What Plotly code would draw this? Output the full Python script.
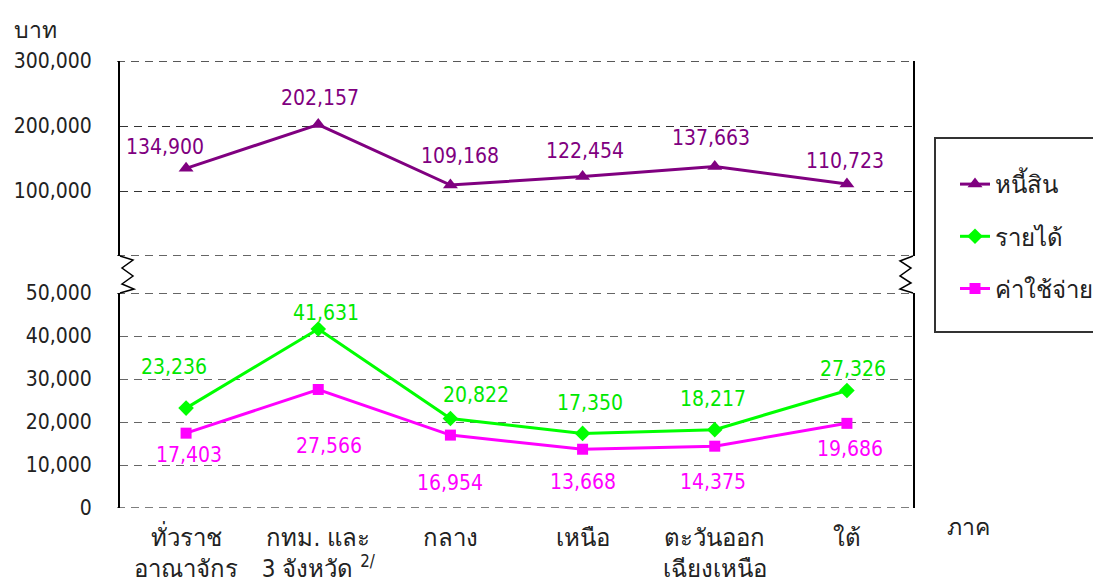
import plotly.graph_objects as go

# ---------------- data ----------------
categories = ["ทั่วราชอาณาจักร", "กทม. และ 3 จังหวัด", "กลาง", "เหนือ", "ตะวันออกเฉียงเหนือ", "ใต้"]
tick_labels = ["ทั่วราช<br>อาณาจักร", "กทม. และ<br>3 จังหวัด <sup>2/</sup>", "กลาง", "เหนือ",
               "ตะวันออก<br>เฉียงเหนือ", "ใต้"]
debt = [134900, 202157, 109168, 122454, 137663, 110723]      # หนี้สิน
income = [23236, 41631, 20822, 17350, 18217, 27326]          # รายได้
expense = [17403, 27566, 16954, 13668, 14375, 19686]         # ค่าใช้จ่าย
upper_ticks = [100000, 200000, 300000]
lower_ticks = [0, 10000, 20000, 30000, 40000, 50000]

# label offsets (pixels) – styling only
debt_off = [(-21, 21), (2, 27), (10, 29), (2, 25), (-4, 29), (-2, 23)]
income_off = [(-12, 41), (8, 16), (26, 23), (7, 30), (-2, 31), (6, 22)]
expense_off = [(3, -22), (11, -57), (0, -48), (0, -33), (-2, -36), (3, -26)]

NUMFONT = "DejaVu Sans Condensed, Noto Sans, sans-serif"
FONT = "DejaVu Sans Condensed, Noto Sans, sans-serif"
PURPLE = "#800080"
GREEN = "#00FF00"
MAGENTA = "#FF00FF"

# geometry (pixels)
W, H = 1093, 586
L, R, T, B = 120, 913, 61, 508
PW, PH = R - L, B - T
UPPER_BOTTOM = 256
LOWER_TOP = 293


def px(xp):
    return (xp - L) / PW


def py(yp):
    return (B - yp) / PH


fig = go.Figure()

fig.add_trace(go.Scatter(
    x=categories, y=debt, name="หนี้สิน", yaxis="y2", mode="lines+markers",
    line=dict(color=PURPLE, width=3), marker=dict(symbol="triangle-up", size=13, color=PURPLE),
    legendgroup="a"))
fig.add_trace(go.Scatter(
    x=categories, y=income, name="รายได้", yaxis="y", mode="lines+markers",
    line=dict(color=GREEN, width=3), marker=dict(symbol="diamond", size=12, color=GREEN),
    legendgroup="b"))
fig.add_trace(go.Scatter(
    x=categories, y=expense, name="ค่าใช้จ่าย", yaxis="y", mode="lines+markers",
    line=dict(color=MAGENTA, width=3), marker=dict(symbol="square", size=11, color=MAGENTA),
    legendgroup="c"))

annotations = []
for vals, offs, yref, color in [(debt, debt_off, "y2", PURPLE),
                                (income, income_off, "y", "#00E800"),
                                (expense, expense_off, "y", MAGENTA)]:
    for c, v, (dx, dy) in zip(categories, vals, offs):
        annotations.append(dict(x=c, y=v, xref="x", yref=yref, text=f"{v:,}", showarrow=False,
                                xshift=dx, yshift=dy, xanchor="center", yanchor="middle",
                                font=dict(family=NUMFONT, size=21, color=color)))

annotations.append(dict(x=px(35), y=py(30), xref="paper", yref="paper", text="บาท", showarrow=False,
                        xanchor="center", yanchor="middle",
                        font=dict(family=FONT, size=23, color="#222")))
annotations.append(dict(x=px(968), y=py(527), xref="paper", yref="paper", text="ภาค", showarrow=False,
                        xanchor="center", yanchor="middle",
                        font=dict(family=FONT, size=23, color="#222")))


def zig(points):
    return "M " + " L ".join(f"{px(a)},{py(b)}" for a, b in points)


left_zig = [(120, UPPER_BOTTOM), (133, 260), (122, 268), (133, 276), (122, 284), (134, 289), (120, LOWER_TOP)]
right_zig = [(913, UPPER_BOTTOM), (900, 261), (911, 268), (900, 276), (911, 283), (900, 289), (913, LOWER_TOP)]
shapes = [dict(type="path", xref="paper", yref="paper", path=zig(pts),
               line=dict(color="black", width=1.5)) for pts in (left_zig, right_zig)]

# boundary grid lines (plotly drops grid lines that sit exactly on the range ends)
for yref, yv, col in [("y", 0, "#555"), ("y", 50000, "#333"), ("y2", 0, "#333"), ("y2", 300000, "#222")]:
    shapes.append(dict(type="line", xref="paper", yref=yref, x0=px(117), x1=1, y0=yv, y1=yv,
                       line=dict(color=col, width=1.5, dash="8px,6px"), layer="below"))

# legend frame
shapes.append(dict(type="rect", xref="paper", yref="paper", x0=px(935), x1=px(1100), y0=py(332), y1=py(138),
                   line=dict(color="#333", width=2), fillcolor="rgba(0,0,0,0)"))

axis_common = dict(showline=True, linecolor="black", linewidth=2, mirror=True, zeroline=False,
                   showgrid=True, griddash="8px,6px", ticks="", ticklabelstandoff=22,
                   tickfont=dict(family=NUMFONT, size=21, color="#222"), fixedrange=True)

fig.update_layout(
    width=W, height=H,
    margin=dict(l=L, r=W - R, t=T, b=H - B, autoexpand=False),
    paper_bgcolor="white", plot_bgcolor="white",
    font=dict(family=FONT, color="#222"),
    xaxis=dict(type="category", range=[-0.5, 5.5], tickvals=categories, ticktext=tick_labels,
               showgrid=False, showline=False, zeroline=False, ticks="", ticklabelstandoff=13,
               tickfont=dict(family=FONT, size=24, color="#222"), anchor="y", fixedrange=True),
    yaxis=dict(domain=[0, py(LOWER_TOP)], range=[0, 50000], tickvals=lower_ticks,
               ticktext=[f"{v:,}" for v in lower_ticks], gridcolor="#666", gridwidth=1,
               anchor="x", **axis_common),
    yaxis2=dict(domain=[py(UPPER_BOTTOM), 1], range=[0, 300000], tickvals=upper_ticks,
                ticktext=[f"{v:,}" for v in upper_ticks], gridcolor="#333",
                gridwidth=1, anchor="x", **axis_common),
    legend=dict(x=px(955), y=py(162), xanchor="left", yanchor="top", borderwidth=0,
                bgcolor="rgba(0,0,0,0)", font=dict(family=FONT, size=24, color="#222"),
                tracegroupgap=18, traceorder="grouped"),
    annotations=annotations,
    shapes=shapes,
    showlegend=True,
)

fig.write_html("out.html", config={"displayModeBar": False},
               post_script="document.body.style.margin='0px';")
